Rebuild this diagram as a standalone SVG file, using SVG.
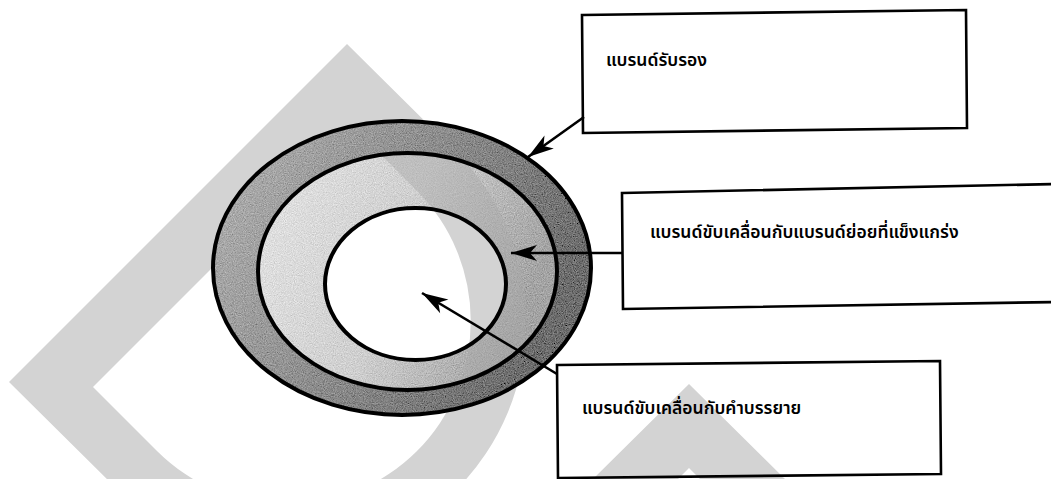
<svg xmlns="http://www.w3.org/2000/svg" width="1051" height="479" viewBox="0 0 1051 479">
<style>
.box{fill:none;stroke:#000;stroke-width:2.6}
.ring{fill:none;stroke:#000;stroke-width:4}
.lbl{font-family:"Noto Sans Thai","Noto Sans Thai UI","Noto Sans","DejaVu Sans",sans-serif;font-size:17.5px;font-weight:600;fill:#000}
.conn{stroke:#000;stroke-width:2.6;fill:none;marker-end:url(#ah)}
.wm{fill:#d3d3d3}
</style>
<defs>
<marker id="ah" markerUnits="userSpaceOnUse" viewBox="-27 -9 28 18" markerWidth="28" markerHeight="18" refX="0" refY="0" orient="auto">
<path d="M0,0 L-26,-8 L-19,0 L-26,8 Z" fill="#000"/>
</marker>
<linearGradient id="gOuter" x1="0" y1="0" x2="1" y2="0.4">
<stop offset="0" stop-color="#b4b4b4"/>
<stop offset="0.5" stop-color="#909090"/>
<stop offset="1" stop-color="#6e6e6e"/>
</linearGradient>
<linearGradient id="gMid" x1="0" y1="0" x2="1" y2="0.3">
<stop offset="0" stop-color="#e4e4e4"/>
<stop offset="0.55" stop-color="#cfcfcf"/>
<stop offset="1" stop-color="#a4a4a4"/>
</linearGradient>
<filter id="grain" x="0" y="0" width="1" height="1">
<feTurbulence type="fractalNoise" baseFrequency="0.9" numOctaves="2" seed="4" result="n"/>
<feColorMatrix in="n" type="matrix" values="0.33 0.33 0.33 0 0 0.33 0.33 0.33 0 0 0.33 0.33 0.33 0 0 0 0 0 0 1" result="g"/>
<feComposite in="SourceGraphic" in2="g" operator="arithmetic" k1="0" k2="1" k3="0.7" k4="-0.35" result="m"/>
<feComposite in="m" in2="SourceGraphic" operator="in"/>
</filter>
<path id="dShape" fill-rule="evenodd" d="M9,382 L347,44 L456,152 A239,239 0 0 1 456,490 A239,239 0 0 1 118,490 Z M93,387 L157,451 A184,184 0 0 0 417,451 A184,184 0 0 0 417,191 L353,127 Z"/>
<clipPath id="midClip">
<path clip-rule="evenodd" d="M258,271.5 a149.5,118.5 0 1 0 299,0 a149.5,118.5 0 1 0 -299,0 Z M325,284 a90.5,76 0 1 0 181,0 a90.5,76 0 1 0 -181,0 Z"/>
</clipPath>
</defs>
<rect width="1051" height="479" fill="#fff"/>

<g id="watermark">
<use href="#dShape" class="wm"/>
<path class="wm" d="M593,479 L689,384 L785,479 L700,479 L689,468 L678,479 Z"/>
</g>

<g id="rings">
<g id="ring-outer">
<path fill="url(#gOuter)" fill-rule="evenodd" filter="url(#grain)" d="M213,268 a189,147 0 1 0 378,0 a189,147 0 1 0 -378,0 Z M258,271.5 a149.5,118.5 0 1 0 299,0 a149.5,118.5 0 1 0 -299,0 Z"/>
<ellipse class="ring" cx="402" cy="268" rx="189" ry="147"/>
</g>
<g id="ring-middle">
<path fill="url(#gMid)" fill-rule="evenodd" filter="url(#grain)" d="M258,271.5 a149.5,118.5 0 1 0 299,0 a149.5,118.5 0 1 0 -299,0 Z M325,284 a90.5,76 0 1 0 181,0 a90.5,76 0 1 0 -181,0 Z"/>
<g clip-path="url(#midClip)"><use href="#dShape" fill="#a8a8a8" fill-opacity="0.45"/></g>
<ellipse class="ring" cx="407.5" cy="271.5" rx="149.5" ry="118.5"/>
</g>
<g id="ring-inner">
<ellipse class="ring" cx="415.5" cy="284" rx="90.5" ry="76"/>
</g>
</g>

<g id="connectors">
<line class="conn" x1="584" y1="117" x2="528" y2="157"/>
<line class="conn" x1="622" y1="253" x2="511" y2="253"/>
<line class="conn" x1="557" y1="374" x2="422" y2="293"/>
</g>

<g id="box-endorsed">
<path class="box" d="M582,15 L966,10 L967,128 L583,133 Z"/>
<text class="lbl" x="606" y="66">แบรนด์รับรอง</text>
</g>
<g id="box-subbrand">
<path class="box" d="M622,193 L1056,184 L1056,302 L623,309 Z"/>
<text class="lbl" x="650" y="238">แบรนด์ขับเคลื่อนกับแบรนด์ย่อยที่แข็งแกร่ง</text>
</g>
<g id="box-descriptor">
<path class="box" d="M557,365 L940,361 L941,474 L558,478 Z"/>
<text class="lbl" x="582" y="414">แบรนด์ขับเคลื่อนกับคำบรรยาย</text>
</g>
</svg>
